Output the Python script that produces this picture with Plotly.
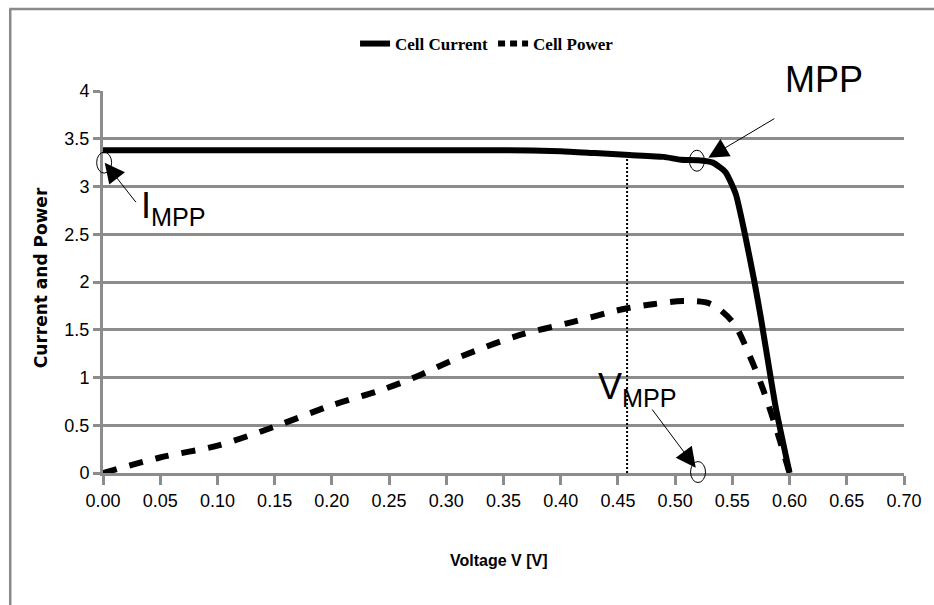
import plotly.graph_objects as go

# ---- data ----
voltage_current = [0.0, 0.05, 0.10, 0.20, 0.30, 0.35, 0.40, 0.43, 0.46, 0.49, 0.505, 0.52,
                   0.533, 0.544, 0.553, 0.561, 0.569, 0.575, 0.581, 0.588, 0.60]
cell_current = [3.38, 3.38, 3.38, 3.38, 3.38, 3.38, 3.37, 3.35, 3.33, 3.31, 3.28, 3.275,
                3.25, 3.15, 2.92, 2.50, 2.02, 1.62, 1.18, 0.68, 0.0]

voltage_power = [0.0, 0.049, 0.101, 0.151, 0.20, 0.241, 0.27, 0.313, 0.363, 0.41, 0.456,
                 0.482, 0.507, 0.531, 0.551, 0.565, 0.577, 0.59, 0.60]
cell_power = [0.0, 0.16, 0.29, 0.49, 0.71, 0.86, 0.99, 1.22, 1.44, 1.58, 1.72,
              1.77, 1.80, 1.77, 1.57, 1.23, 0.87, 0.40, 0.0]

x_ticks = [0.00, 0.05, 0.10, 0.15, 0.20, 0.25, 0.30, 0.35, 0.40, 0.45, 0.50, 0.55, 0.60, 0.65, 0.70]
x_tick_labels = ["%.2f" % v for v in x_ticks]
y_ticks = [0, 0.5, 1, 1.5, 2, 2.5, 3, 3.5, 4]
y_tick_labels = ["0", "0.5", "1", "1.5", "2", "2.5", "3", "3.5", "4"]

v_mpp = 0.458
i_at_vmpp = 3.30
mpp_point = (0.519, 3.27)
impp_point = (0.001, 3.25)
vmpp_point = (0.52, 0.01)

GRID = "#8c8c8c"
NARROW = "Liberation Sans Narrow, Arial Narrow, Liberation Sans, Arial"

fig = go.Figure()
fig.add_trace(go.Scatter(
    x=voltage_current, y=cell_current, mode="lines", name="Cell Current",
    line=dict(color="black", width=6, shape="spline", smoothing=0.5),
))
fig.add_trace(go.Scatter(
    x=voltage_power, y=cell_power, mode="lines", name="Cell Power", showlegend=False,
    line=dict(color="black", width=6, dash="14px,13px", shape="spline", smoothing=0.9),
))
# legend-only sample for the dashed series (shorter dashes like the reference key)
fig.add_trace(go.Scatter(
    x=[None], y=[None], mode="lines", name="Cell Power",
    line=dict(color="black", width=6, dash="7px,5px"),
))
# dotted V_MPP marker line
fig.add_trace(go.Scatter(
    x=[v_mpp, v_mpp], y=[0, i_at_vmpp], mode="lines", showlegend=False,
    line=dict(color="black", width=2, dash="2px,2px"),
))

L, R, T, B = 103, 28, 91, 132
W, H = 934, 605
pw, ph = W - L - R, H - T - B
XMAX, YMAX = 0.70, 4.0


def px(xp):
    return (xp - L) / pw


def py(yp):
    return (H - B - yp) / ph


shapes = []
# ellipses marking points (paper refs so they are not clipped at the axes)
rx, ry = 7.5 / pw, 10.5 / ph
for (cx, cy) in [mpp_point, impp_point, vmpp_point]:
    cxp, cyp = cx / XMAX, cy / YMAX
    shapes.append(dict(type="circle", xref="paper", yref="paper",
                       x0=cxp - rx, x1=cxp + rx, y0=cyp - ry, y1=cyp + ry,
                       line=dict(color="black", width=1)))
# outer chart border (left and top)
shapes.append(dict(type="line", xref="paper", yref="paper", x0=px(10), x1=px(10),
                   y0=py(9), y1=py(620), line=dict(color="#8a8a8a", width=2.5)))
shapes.append(dict(type="line", xref="paper", yref="paper", x0=px(9), x1=px(950),
                   y0=py(9), y1=py(9), line=dict(color="#8a8a8a", width=2.5)))

annotations = []
big = dict(family=NARROW, size=36, color="black")
annotations.append(dict(x=px(826), y=py(79), xref="paper", yref="paper", text="MPP",
                        showarrow=False, font=big, xanchor="center", yanchor="middle"))
annotations.append(dict(x=0.0318, y=2.77, xref="x", yref="y", text="I<sub>MPP</sub>",
                        showarrow=False, font=big, xanchor="left", yanchor="middle"))
annotations.append(dict(x=0.467, y=0.88, xref="x", yref="y", text="V<sub>MPP</sub>",
                        showarrow=False, font=big, xanchor="center", yanchor="middle"))
arrow_style = dict(showarrow=True, arrowhead=2, arrowsize=4, arrowwidth=1,
                   arrowcolor="black", axref="x", ayref="y", text="", xref="x", yref="y")
annotations.append(dict(x=0.529, y=3.30, ax=0.588, ay=3.72, **arrow_style))
annotations.append(dict(x=0.0015, y=3.25, ax=0.0298, ay=2.82, **arrow_style))
annotations.append(dict(x=0.518, y=0.055, ax=0.479, ay=0.68, **arrow_style))
# axis titles
annotations.append(dict(x=px(41), y=py(278), xref="paper", yref="paper",
                        text="<b>Current and Power</b>", textangle=-90, showarrow=False,
                        font=dict(family="DejaVu Sans, Verdana", size=17, color="black"),
                        xanchor="center", yanchor="middle"))
annotations.append(dict(x=px(500), y=py(560), xref="paper", yref="paper",
                        text="<b>Voltage V [V]</b>", showarrow=False,
                        font=dict(family=NARROW, size=16, color="black"),
                        xanchor="center", yanchor="middle"))

fig.update_layout(
    width=W, height=H,
    margin=dict(l=L, r=R, t=T, b=B),
    paper_bgcolor="white", plot_bgcolor="white",
    showlegend=True,
    legend=dict(orientation="h", x=px(488), y=py(44), xanchor="center", yanchor="middle",
                font=dict(family="Liberation Serif, Times New Roman", size=17, color="black",
                          weight="bold"),
                itemwidth=30, bgcolor="rgba(0,0,0,0)"),
    shapes=shapes, annotations=annotations,
)
fig.update_xaxes(range=[0, XMAX], tickvals=x_ticks, ticktext=x_tick_labels,
                 showgrid=False, zeroline=False, showline=True, linecolor=GRID, linewidth=3,
                 ticks="outside", ticklen=9, tickwidth=3, tickcolor=GRID,
                 tickfont=dict(family=NARROW, size=18, color="black"))
fig.update_yaxes(range=[0, YMAX], tickvals=y_ticks, ticktext=y_tick_labels,
                 showgrid=True, gridcolor=GRID, gridwidth=3, zeroline=False,
                 showline=True, linecolor=GRID, linewidth=3,
                 ticks="outside", ticklen=7, tickwidth=3, tickcolor=GRID,
                 tickfont=dict(family=NARROW, size=18, color="black"))

fig.write_html("out.html")
